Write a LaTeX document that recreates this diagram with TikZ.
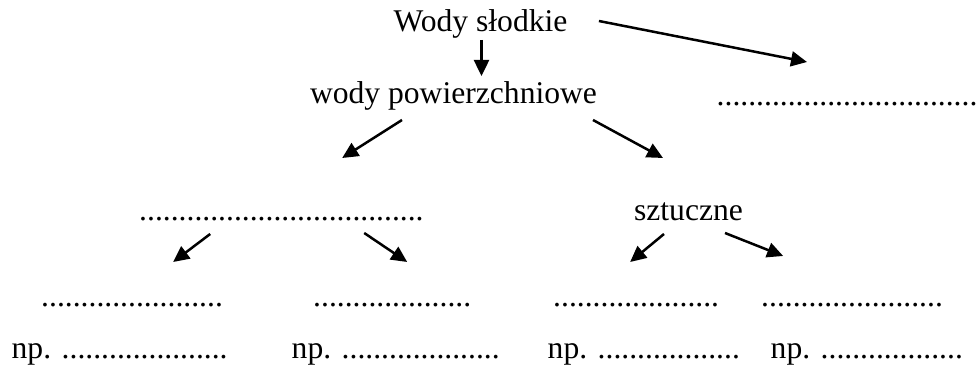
\documentclass[tikz,border=0pt]{standalone}
\usepackage{fontspec}
\setmainfont{Liberation Serif}
\usetikzlibrary{arrows.meta}
\newcommand{\dotrun}[1]{\foreach \k in {1,...,#1}{.}}

\begin{document}
\begin{tikzpicture}[x=1pt,y=1pt,
word/.style={font=\fontsize{31.6}{38}\selectfont,inner sep=0pt,anchor=base},
blank/.style={word,anchor=base west},
link/.style={-{Triangle[length=16pt,width=15pt]},line width=2.5pt}]
    \useasboundingbox (0,0) rectangle (980,369);
    % top rows
    \node[word] (ws) at (480.5,337.5) {Wody słodkie};
    \node[word] (wp) at (453.5,265.7) {wody powierzchniowe};
    \node[blank] (rd) at (716.5,263.3) {\dotrun{33}};
    \node[blank] (ld) at (139,148.3) {\dotrun{36}};
    \node[word] (sz) at (688.5,148.3) {sztuczne};
    % third row
    \node[blank] (d1) at (41,62.3) {\dotrun{23}};
    \node[blank] (d2) at (313,62.3) {\dotrun{20}};
    \node[blank] (d3) at (553,62.3) {\dotrun{21}};
    \node[blank] (d4) at (761,62.3) {\dotrun{23}};
    % examples
    \node[blank] (np1) at (11.5,10) {np. \dotrun{21}};
    \node[blank] (np2) at (291.5,10) {np. \dotrun{20}};
    \node[blank] (np3) at (547.5,10) {np. \dotrun{18}};
    \node[blank] (np4) at (770.5,10) {np. \dotrun{18}};
    % arrows
    \draw [link] ([shift={(31.3,10.5)}]ws.base east) -- ([shift={(90.5,43.7)}]rd.base west);
    \draw [link] ([shift={(1,-8.5)}]ws.base) -- ([shift={(28,27.3)}]wp.base);
    \draw [link] ([shift={(-51.5,-16.7)}]wp.base) -- ([shift={(60.8,62.7)}]ld.base);
    \draw [link] ([shift={(139.5,-16.7)}]wp.base) -- ([shift={(-25.5,62.7)}]sz.base);
    \draw [link] ([shift={(-71.2,-13.3)}]ld.base) -- ([shift={(41.1,44.7)}]d1.base);
    \draw [link] ([shift={(82.8,-12.3)}]ld.base) -- ([shift={(15,44.7)}]d2.base);
    \draw [link] ([shift={(-24.5,-13.3)}]sz.base) -- ([shift={(-6,44.7)}]d3.base);
    \draw [link] ([shift={(36.5,-12.3)}]sz.base) -- ([shift={(-68.9,50.7)}]d4.base);
\end{tikzpicture}
\end{document}
